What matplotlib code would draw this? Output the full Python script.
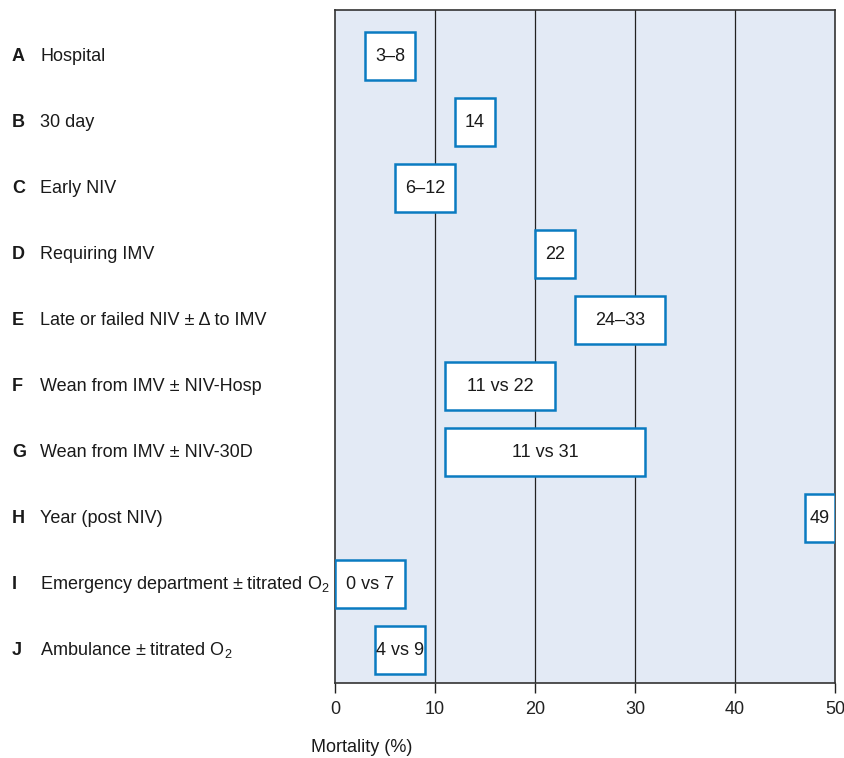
import numpy as np
import matplotlib.pyplot as plt

letters = ['A', 'B', 'C', 'D', 'E', 'F', 'G', 'H', 'I', 'J']
names = ['Hospital', '30 day', 'Early NIV', 'Requiring IMV',
         'Late or failed NIV \u00b1 \u0394 to IMV', 'Wean from IMV \u00b1 NIV-Hosp',
         'Wean from IMV \u00b1 NIV-30D', 'Year (post NIV)',
         'Emergency department \u00b1 titrated O$_2$', 'Ambulance \u00b1 titrated O$_2$']
box_start = [3, 12, 6, 20, 24, 11, 11, 47, 0, 4]
box_end = [8, 16, 12, 24, 33, 22, 31, 50, 7, 9]
box_text = ['3\u20138', '14', '6\u201312', '22', '24\u201333', '11 vs 22',
            '11 vs 31', '49', '0 vs 7', '4 vs 9']
xticks = [0, 10, 20, 30, 40, 50]

fam = ['Liberation Sans Narrow', 'Liberation Sans', 'DejaVu Sans']
plt.rcParams['font.family'] = fam
plt.rcParams['mathtext.fontset'] = 'custom'
plt.rcParams['mathtext.rm'] = 'Liberation Sans'
plt.rcParams['mathtext.it'] = 'Liberation Sans'
plt.rcParams['mathtext.default'] = 'rm'

txt = '#1a1a1a'
blue = '#0a7bc1'

fig = plt.figure(figsize=(8.44, 7.58), dpi=100)
ax = fig.add_axes([335/844, 1-683/758, 500/844, 673/758])
ax.set_facecolor('#e3eaf5')

y = np.arange(len(letters))
for x in xticks[1:-1]:
    ax.axvline(x, color='#222222', lw=0.9, zorder=1)

ax.barh(y, np.array(box_end) - np.array(box_start), left=box_start, height=0.72,
        color='white', edgecolor=blue, linewidth=1.8, zorder=3)
for i in range(len(y)):
    ax.text((box_start[i] + box_end[i]) / 2, y[i], box_text[i], ha='center',
            va='center', fontsize=13, color=txt, zorder=4)

ax.set_xlim(0, 50)
ax.set_ylim(9.5, -0.7)
ax.set_yticks([])
ax.set_xticks(xticks)
ax.tick_params(axis='x', direction='out', length=7, width=1, colors='#222222',
               labelsize=13, pad=6)
for s in ax.spines.values():
    s.set_color('#333333')
    s.set_linewidth(1.2)

# row labels on the left
for i in range(len(y)):
    ax.annotate(letters[i], xy=(0, y[i]), xycoords=('figure fraction', 'data'),
                xytext=(12, 0), textcoords='offset pixels', ha='left',
                va='center', fontsize=13, fontweight='bold', color=txt)
    ax.annotate(names[i], xy=(0, y[i]), xycoords=('figure fraction', 'data'),
                xytext=(40, 0), textcoords='offset pixels', ha='left',
                va='center', fontsize=13, color=txt)

fig.text(362/844, 1-748/758, 'Mortality (%)', ha='center', va='center',
         fontsize=13, color=txt)

fig.savefig('out.png', dpi=100)
